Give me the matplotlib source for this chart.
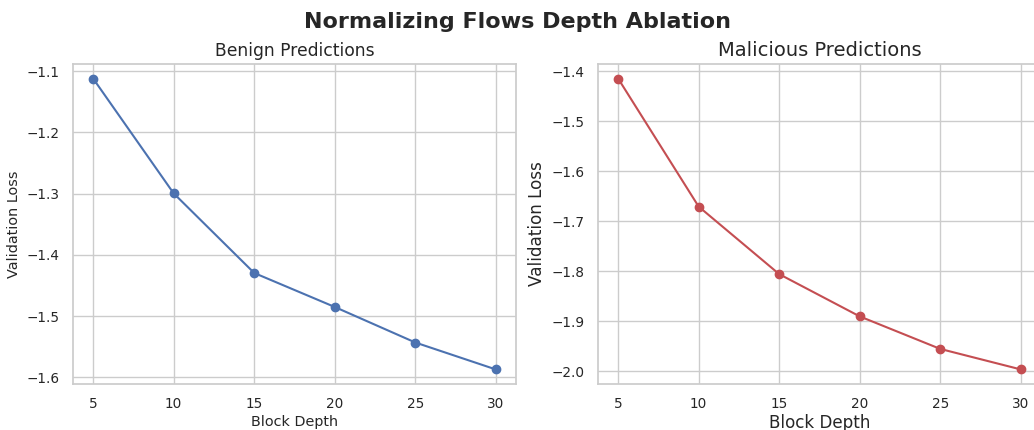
import numpy as np
import matplotlib
matplotlib.use("Agg")
import matplotlib.pyplot as plt
import seaborn as sns

# block depths tried in the ablation
depths = [5, 10, 15, 20, 25, 30]
# validation loss
benign_loss = [-1.112, -1.2995, -1.4295, -1.485, -1.543, -1.587]
malicious_loss = [-1.415, -1.671, -1.806, -1.8905, -1.9555, -1.9965]

sns.set_theme(style="whitegrid")
plt.rcParams['font.family'] = ['DejaVu Sans']

fig = plt.figure(figsize=(10.34, 4.3), dpi=100)
# right panel runs a little past the figure edge, as in the source image
ax1 = fig.add_axes([73/1034, 1-384/430, 443/1034, 320/430])
ax2 = fig.add_axes([598/1034, 1-384/430, 443/1034, 320/430])

ax1.plot(depths, benign_loss, marker="o", color="#4c72b0", lw=1.5, ms=6)
ax1.set_title("Benign Predictions", fontsize=12.3)
ax1.set_xlabel("Block Depth", fontsize=10.4, labelpad=3)
ax1.set_ylabel("Validation Loss", fontsize=10.4)
ax1.tick_params(labelsize=9.8)

ax2.plot(depths, malicious_loss, marker="o", color="#c44e52", lw=1.5, ms=6)
ax2.set_title("Malicious Predictions", fontsize=14)
ax2.set_xlabel("Block Depth", fontsize=12.1, labelpad=2)
ax2.set_ylabel("Validation Loss", fontsize=12.1)
ax2.tick_params(labelsize=9.8)

for ax in (ax1, ax2):
    ax.set_xticks(depths)

fig.suptitle("Normalizing Flows Depth Ablation", fontsize=16, fontweight="bold", y=0.972)

fig.savefig("out.png", dpi=100)
